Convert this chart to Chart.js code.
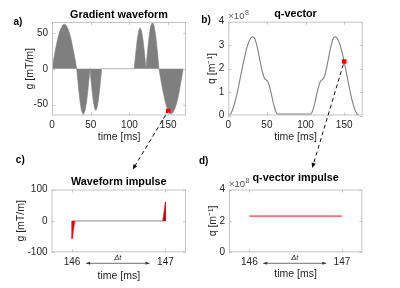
<!DOCTYPE html>
<html lang="en">
<head>
<meta charset="UTF-8">
<title>Gradient waveform and q-vector</title>
<script src="https://cdn.jsdelivr.net/npm/chart.js"></script>
<style>
  body { margin: 0; background: #fff; }
  #wrap { position: relative; width: 400px; height: 288px; }
  #wrap canvas { position: absolute; left: 0; top: 0; }
</style>
</head>
<body>
<div id="wrap">
  <canvas id="chartA" width="400" height="288"></canvas>
  <canvas id="chartB" width="400" height="288"></canvas>
  <canvas id="chartC" width="400" height="288"></canvas>
  <canvas id="chartD" width="400" height="288"></canvas>
  <canvas id="overlay" width="400" height="288"></canvas>
</div>
<script>
// sample times [ms] for panels a) and b)
const time = [0, 2, 4, 6, 8, 10, 12, 14, 16, 18, 20, 22, 24, 26, 28, 30, 31.9,
  34, 36, 38, 40.45, 43, 45, 47, 49,
  51, 53, 55, 56.55, 58, 60, 62, 64.1,
  106.2,
  108, 110, 112, 113.75, 115.5, 117.5, 119.5, 121.3,
  123.3, 125.3, 127.3, 129.7, 132, 134, 136, 138.1,
  140, 142, 144, 146, 148, 150, 152, 153.75, 156, 158, 160, 162, 164, 166, 168, 169.4];
// gradient g [mT/m]
const gradient = [0, 12, 24, 35, 44, 52, 57, 61, 62, 61, 57, 51, 44, 34, 23, 12, 0,
  -24, -44, -58, -64, -57, -43, -23, 0,
  -23, -43, -55, -58, -55, -43, -24, 0,
  0,
  21, 40, 53, 57, 53, 40, 21, 0,
  24, 44, 59, 65, 59, 45, 25, 0,
  -12, -24, -35, -45, -53, -59, -62, -63, -61, -57, -51, -43, -33, -21, -9, 0];
// q-vector [x1e8 m^-1]
const qVector = [0, 0.03, 0.13, 0.29, 0.50, 0.75, 1.04, 1.36, 1.69, 2.02, 2.33, 2.62, 2.88, 3.08, 3.24, 3.33, 3.36,
  3.29, 3.11, 2.84, 2.44, 2.02, 1.76, 1.58, 1.52,
  1.46, 1.28, 1.02, 0.79, 0.57, 0.31, 0.13, 0.06,
  0.06,
  0.11, 0.28, 0.53, 0.79, 1.05, 1.30, 1.47, 1.52,
  1.58, 1.76, 2.04, 2.44, 2.82, 3.10, 3.29, 3.36,
  3.33, 3.23, 3.07, 2.86, 2.60, 2.30, 1.97, 1.68, 1.30, 0.98, 0.69, 0.44, 0.24, 0.10, 0.02, 0];

// highlighted sample
const markerTime = [150];
const markerGrad = [-58.6];
const markerQ = [2.30];

// impulse view (panels c and d)
const impulseTime = [146, 147];
const impulseGrad = [-57, 60];
const impulseQ = [2.31, 2.31];
const stepMs = 0.03;
const deltaSpan = [146.15, 146.83];

// tick labels
const ticksTime = [0, 50, 100, 150];
const ticksGrad = [-50, 0, 50];
const ticksQ = [0, 1, 2, 3, 4];
const ticksImpTime = [146, 147];
const ticksImpGrad = [-100, 0, 100];
const ticksImpQ = [0, 2, 4];

const FONT = '"Liberation Sans", Arial, Helvetica, sans-serif';
Chart.defaults.font.family = FONT;
Chart.defaults.font.size = 10;
Chart.defaults.color = '#262626';

const BOX = '#c4c4c4';

// box, inward ticks, title, exponent and delta-t arrow
const framePlugin = {
  id: 'frame',
  afterDraw(chart, args, opts) {
    const { ctx, chartArea: a, scales } = chart;
    ctx.save();
    ctx.strokeStyle = BOX;
    ctx.lineWidth = 1;
    ctx.strokeRect(a.left + 0.5, a.top + 0.5, a.right - a.left - 1, a.bottom - a.top - 1);
    ctx.beginPath();
    scales.x.ticks.forEach(t => {
      const px = Math.round(scales.x.getPixelForValue(t.value)) + 0.5;
      ctx.moveTo(px, a.bottom); ctx.lineTo(px, a.bottom - 3);
      ctx.moveTo(px, a.top); ctx.lineTo(px, a.top + 3);
    });
    scales.y.ticks.forEach(t => {
      const py = Math.round(scales.y.getPixelForValue(t.value)) + 0.5;
      ctx.moveTo(a.left, py); ctx.lineTo(a.left + 3, py);
      ctx.moveTo(a.right, py); ctx.lineTo(a.right - 3, py);
    });
    ctx.stroke();

    ctx.fillStyle = '#000';
    ctx.font = 'bold 10.8px ' + FONT;
    ctx.textAlign = 'center';
    ctx.textBaseline = 'middle';
    ctx.fillText(opts.title, (a.left + a.right) / 2, opts.titleY);

    if (opts.exp) {
      ctx.fillStyle = '#555';
      ctx.textAlign = 'left';
      ctx.textBaseline = 'alphabetic';
      ctx.font = '9.5px ' + FONT;
      ctx.fillText('\u00d710', a.left, a.top - 3);
      const w = ctx.measureText('\u00d710').width;
      ctx.font = '7px ' + FONT;
      ctx.fillText('8', a.left + w + 0.5, a.top - 7);
    }

    if (opts.delta) {
      const x1 = scales.x.getPixelForValue(opts.delta[0]);
      const x2 = scales.x.getPixelForValue(opts.delta[1]);
      const y = a.bottom + 11;
      ctx.strokeStyle = '#333';
      ctx.fillStyle = '#333';
      ctx.lineWidth = 0.7;
      ctx.beginPath();
      ctx.moveTo(x1, y); ctx.lineTo(x2, y);
      ctx.stroke();
      [[x1, 1], [x2, -1]].forEach(([x, d]) => {
        ctx.beginPath();
        ctx.moveTo(x, y);
        ctx.lineTo(x + 4 * d, y - 1.5);
        ctx.lineTo(x + 4 * d, y + 1.5);
        ctx.closePath();
        ctx.fill();
      });
      ctx.fillStyle = '#222';
      ctx.font = 'italic 7.5px ' + FONT;
      ctx.textAlign = 'center';
      ctx.textBaseline = 'middle';
      ctx.fillText('\u0394t', (x1 + x2) / 2, a.bottom + 5.5);
    }
    ctx.restore();
  }
};

function setTicks(values) {
  return scale => { scale.ticks = values.map(v => ({ value: v })); };
}

function panelOptions(p) {
  const lh = 10.5 * 1.2;
  const yW = 40;
  return {
    responsive: false,
    animation: false,
    events: [],
    layout: {
      padding: {
        left: p.area.l - yW,
        top: p.area.t,
        right: 400 - p.area.r,
        bottom: 288 - p.area.b - p.xH
      }
    },
    plugins: {
      legend: { display: false },
      tooltip: { enabled: false },
      frame: { title: p.title, titleY: p.titleY, exp: p.exp, delta: p.delta }
    },
    scales: {
      x: {
        type: 'linear',
        min: p.x.min, max: p.x.max,
        grid: { display: false, drawTicks: false },
        border: { display: false },
        ticks: { padding: p.xPad, maxRotation: 0 },
        afterBuildTicks: setTicks(p.x.ticks),
        afterFit: s => { s.height = p.xH; },
        title: {
          display: true, text: 'time [ms]', font: { size: 10.5 },
          padding: { top: 0, bottom: (p.area.b + p.xH) - p.xTitleY - lh / 2 }
        }
      },
      y: {
        type: 'linear',
        min: p.y.min, max: p.y.max,
        grid: { display: false, drawTicks: false },
        border: { display: false },
        ticks: { padding: 4 },
        afterBuildTicks: setTicks(p.y.ticks),
        afterFit: s => { s.width = yW; },
        title: {
          display: true, text: p.y.title, font: { size: 10.5 },
          padding: { top: p.yTitleX - (p.area.l - yW) - lh / 2, bottom: 0 }
        }
      }
    }
  };
}

const pts = (xs, ys) => xs.map((x, i) => ({ x: x, y: ys[i] }));

const chartA = new Chart(document.getElementById('chartA'), {
  type: 'line',
  data: {
    datasets: [
      { data: pts(markerTime, markerGrad), showLine: false, pointStyle: 'rect', pointRadius: 3.2,
        pointBackgroundColor: '#ff0000', pointBorderWidth: 0, order: 0 },
      { data: pts(time, gradient), borderColor: '#7f7f7f', borderWidth: 0.6, backgroundColor: '#7f7f7f',
        fill: 'origin', pointRadius: 0, order: 1 }
    ]
  },
  options: panelOptions({
    area: { l: 52, t: 22, r: 186, b: 115.5 }, xH: 28.5, xPad: 3.5, xTitleY: 137.5, yTitleX: 30,
    title: 'Gradient waveform', titleY: 14.7,
    x: { min: 0, max: 173, ticks: ticksTime },
    y: { min: -65, max: 65, ticks: ticksGrad, title: 'g [mT/m]' }
  }),
  plugins: [framePlugin]
});

const chartB = new Chart(document.getElementById('chartB'), {
  type: 'line',
  data: {
    datasets: [
      { data: pts(markerTime, markerQ), showLine: false, pointStyle: 'rect', pointRadius: 3.2,
        pointBackgroundColor: '#ff0000', pointBorderWidth: 0, order: 0 },
      { data: pts(time, qVector), borderColor: '#808080', borderWidth: 1.1, fill: false,
        cubicInterpolationMode: 'monotone', pointRadius: 0, order: 1 }
    ]
  },
  options: panelOptions({
    area: { l: 228.3, t: 21.7, r: 362.7, b: 115.5 }, xH: 28.5, xPad: 3.5, xTitleY: 137.5, yTitleX: 212,
    title: 'q-vector', titleY: 14.5, exp: true,
    x: { min: 0, max: 174, ticks: ticksTime },
    y: { min: 0, max: 4, ticks: ticksQ, title: 'q [m\u207b\u00b9]' }
  }),
  plugins: [framePlugin]
});

const chartC = new Chart(document.getElementById('chartC'), {
  type: 'line',
  data: {
    datasets: [
      { data: pts([impulseTime[0], impulseTime[0], impulseTime[0] + stepMs], [0, impulseGrad[0], 0]),
        borderColor: '#e00000', borderWidth: 0.6, backgroundColor: '#e00000', fill: 'origin', pointRadius: 0, order: 0 },
      { data: pts([impulseTime[1] - stepMs, impulseTime[1], impulseTime[1]], [0, impulseGrad[1], 0]),
        borderColor: '#e00000', borderWidth: 0.6, backgroundColor: '#e00000', fill: 'origin', pointRadius: 0, order: 0 },
      { data: pts(impulseTime, [0, 0]), borderColor: '#bdbdbd', borderWidth: 1.6, fill: false, pointRadius: 0, order: 1 }
    ]
  },
  options: panelOptions({
    area: { l: 51.5, t: 189.5, r: 186, b: 252.3 }, xH: 35.7, xPad: 4, xTitleY: 276, yTitleX: 21,
    title: 'Waveform impulse', titleY: 182.3, delta: deltaSpan,
    x: { min: 145.78, max: 147.22, ticks: ticksImpTime },
    y: { min: -100, max: 100, ticks: ticksImpGrad, title: 'g [mT/m]' }
  }),
  plugins: [framePlugin]
});

const chartD = new Chart(document.getElementById('chartD'), {
  type: 'line',
  data: {
    datasets: [
      { data: pts(impulseTime, impulseQ), borderColor: '#f07272', borderWidth: 1.8, fill: false, pointRadius: 0 }
    ]
  },
  options: panelOptions({
    area: { l: 229, t: 189.5, r: 362.3, b: 252.3 }, xH: 35.7, xPad: 4, xTitleY: 274.5, yTitleX: 213,
    title: 'q-vector impulse', titleY: 178.3, exp: true, delta: deltaSpan,
    x: { min: 145.78, max: 147.22, ticks: ticksImpTime },
    y: { min: 0, max: 4, ticks: ticksImpQ, title: 'q [m\u207b\u00b9]' }
  }),
  plugins: [framePlugin]
});

// panel letters and the dashed pointers from the marker to the zoomed panels
const ov = document.getElementById('overlay').getContext('2d');

function dashedArrow(x0, y0, x1, y1, skip) {
  const len = Math.hypot(x1 - x0, y1 - y0);
  const ux = (x1 - x0) / len, uy = (y1 - y0) / len;
  ov.save();
  ov.strokeStyle = '#111';
  ov.fillStyle = '#111';
  ov.lineWidth = 1;
  ov.setLineDash([4, 3]);
  ov.beginPath();
  ov.moveTo(x0 + ux * skip, y0 + uy * skip);
  ov.lineTo(x1 - ux * 3, y1 - uy * 3);
  ov.stroke();
  ov.setLineDash([]);
  ov.beginPath();
  ov.moveTo(x1, y1);
  ov.lineTo(x1 - ux * 5 - uy * 2.2, y1 - uy * 5 + ux * 2.2);
  ov.lineTo(x1 - ux * 5 + uy * 2.2, y1 - uy * 5 - ux * 2.2);
  ov.closePath();
  ov.fill();
  ov.restore();
}

const ca = chartC.chartArea, da = chartD.chartArea;
dashedArrow(chartA.scales.x.getPixelForValue(markerTime[0]), chartA.scales.y.getPixelForValue(markerGrad[0]),
  (ca.left + ca.right) / 2 + 14, ca.top - 20, 5);
dashedArrow(chartB.scales.x.getPixelForValue(markerTime[0]), chartB.scales.y.getPixelForValue(markerQ[0]),
  (da.left + da.right) / 2 + 16.6, da.top - 21.5, 3);

ov.fillStyle = '#000';
ov.font = 'bold 10px ' + FONT;
ov.textAlign = 'center';
ov.textBaseline = 'middle';
[['a)', 18, 22.7], ['b)', 206, 20.3], ['c)', 20.3, 160.3], ['d)', 203.6, 161.3]].forEach(([t, x, y]) => {
  ov.fillText(t, x, y);
});
</script>
</body>
</html>
